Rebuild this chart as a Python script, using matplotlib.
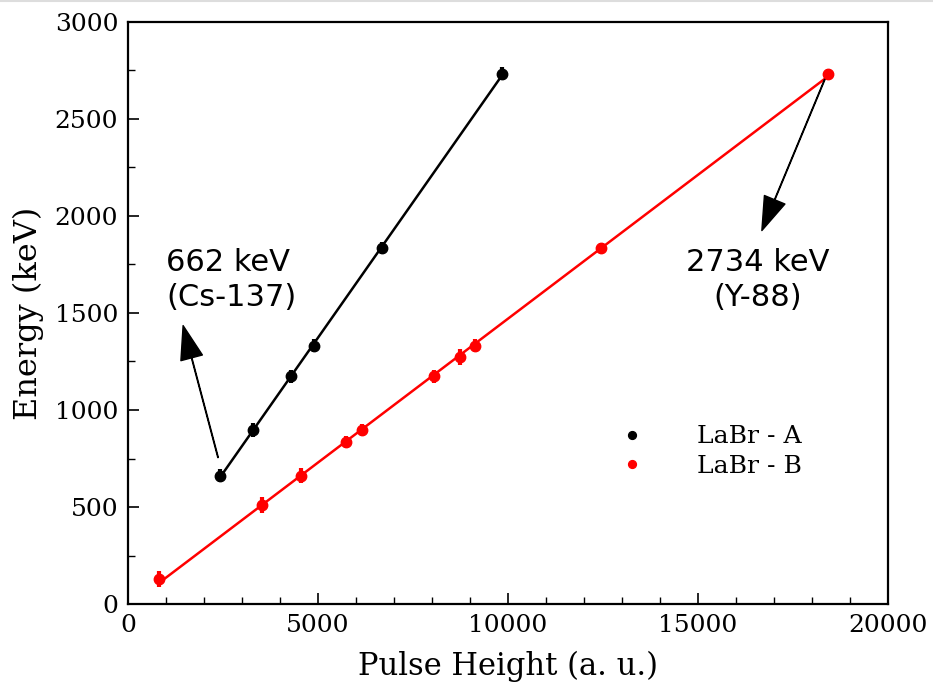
import numpy as np
import matplotlib
matplotlib.use("Agg")
import matplotlib.pyplot as plt
from matplotlib.ticker import MultipleLocator

# calibration points: pulse height vs. gamma line energy
ph_a = [2420, 3290, 4290, 4895, 6685, 9845]
en_a = [662, 898, 1173, 1332, 1836, 2734]
err_a = [35, 35, 35, 35, 30, 35]

ph_b = [815, 3525, 4555, 5740, 6160, 8055, 8740, 9135, 12450, 18420]
en_b = [130, 511, 662, 835, 898, 1173, 1274, 1332, 1836, 2734]
err_b = [40, 40, 40, 30, 30, 35, 40, 35, 25, 25]

labels = ["LaBr - A", "LaBr - B"]

plt.rcParams["font.family"] = ["DejaVu Serif"]

fig = plt.figure(figsize=(9.33, 6.87), dpi=100)
ax = fig.add_axes([0.1372, 0.1208, 0.8146, 0.8472])

for ph, en, err, col, lab in [(ph_a, en_a, err_a, "black", labels[0]),
                              (ph_b, en_b, err_b, "red", labels[1])]:
    ph = np.array(ph, float)
    en = np.array(en, float)
    k, c = np.polyfit(ph, en, 1)
    xs = np.array([ph.min(), ph.max()])
    ax.plot(xs, k * xs + c, color=col, lw=1.8, zorder=2)
    ax.errorbar(ph, en, yerr=err, fmt="none", ecolor=col, elinewidth=3, zorder=3)
    ax.plot(ph, en, "o", color=col, ms=7.5, ls="none", label=lab, zorder=4)

ax.set_xlim(0, 20000)
ax.set_ylim(0, 3000)
ax.xaxis.set_major_locator(MultipleLocator(5000))
ax.xaxis.set_minor_locator(MultipleLocator(1000))
ax.yaxis.set_major_locator(MultipleLocator(500))
ax.yaxis.set_minor_locator(MultipleLocator(250))
ax.tick_params(which="both", direction="in", top=False, right=False,
               labelsize=18, pad=7)
ax.tick_params(which="major", length=8, width=1.2)
ax.tick_params(which="minor", length=5, width=1.0)
for s in ax.spines.values():
    s.set_linewidth(1.6)

ax.set_xlabel("Pulse Height (a. u.)", fontsize=22, labelpad=10)
ax.set_ylabel("Energy (keV)", fontsize=23, labelpad=8)

ax.legend(loc="center left", bbox_to_anchor=(0.6336, 0.262), borderaxespad=0,
          frameon=False, fontsize=18, handlelength=1, handletextpad=2.1,
          labelspacing=0.25, markerscale=0.75)

arrow = dict(facecolor="black", edgecolor="black", width=0.4,
             headwidth=16, headlength=24, shrink=0)
ax.annotate("", xy=(1450, 1435), xytext=(2370, 755), arrowprops=arrow)
ax.annotate("", xy=(16680, 1925), xytext=(18380, 2725), arrowprops=arrow)

ax.text(1000, 1670, "662 keV\n(Cs-137)", ha="left", va="center",
        family="DejaVu Sans", fontsize=22, linespacing=1.3)
ax.text(16580, 1670, "2734 keV\n(Y-88)", ha="center", va="center",
        family="DejaVu Sans", fontsize=22, linespacing=1.3)

# thin grey rule along the top edge
fig.add_artist(plt.Line2D([0, 1], [0.998, 0.998], transform=fig.transFigure,
                          color="#dddddd", lw=1.5))

fig.savefig("out.png", dpi=100)
